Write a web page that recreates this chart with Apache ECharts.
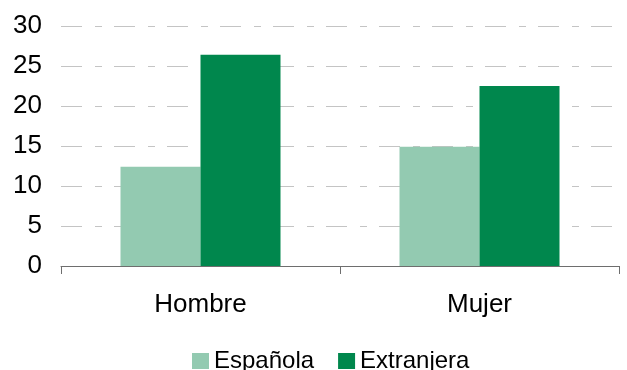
<!DOCTYPE html>
<html>
<head>
<meta charset="utf-8">
<script src="https://cdn.jsdelivr.net/npm/echarts@6/dist/echarts.min.js"></script>
<style>
  html, body { margin: 0; padding: 0; background: #fff; }
  #chart { width: 627px; height: 370px; }
</style>
</head>
<body>
<div id="chart"></div>
<script>
const categories = ['Hombre', 'Mujer']
const espanola = [12.4, 14.9]
const extranjera = [26.4, 22.5]
const seriesNames = ['Española', 'Extranjera']

const font = 'Liberation Sans, Arial, sans-serif'
const chart = echarts.init(document.getElementById('chart'))

chart.setOption({
  animation: false,
  grid: { left: 61, right: 8, top: 26, bottom: 104 },
  legend: {
    data: seriesNames,
    top: 349,
    left: 192,
    itemWidth: 17,
    itemHeight: 16,
    itemGap: 24,
    icon: 'rect',
    padding: 0,
    textStyle: { fontFamily: font, fontSize: 24, color: '#000' }
  },
  xAxis: {
    type: 'category',
    data: categories,
    axisLine: { lineStyle: { color: '#6e6e6e', width: 1 } },
    axisTick: { show: true, length: 8, lineStyle: { color: '#6e6e6e' } },
    axisLabel: { fontFamily: font, fontSize: 26, color: '#000', margin: 26 }
  },
  yAxis: {
    type: 'value',
    min: 0,
    max: 30,
    interval: 5,
    axisLine: { show: false },
    axisTick: { show: false },
    axisLabel: { fontFamily: font, fontSize: 26, color: '#000', margin: 19 },
    splitLine: {
      lineStyle: { color: '#c4c4c4', width: 1, type: [21, 13, 7, 12] }
    }
  },
  series: [
    {
      name: seriesNames[0],
      type: 'bar',
      data: espanola,
      barWidth: 80,
      barGap: 0,
      itemStyle: { color: '#93cab1' }
    },
    {
      name: seriesNames[1],
      type: 'bar',
      data: extranjera,
      barWidth: 80,
      barGap: 0,
      itemStyle: { color: '#00874d' }
    }
  ]
})
</script>
</body>
</html>
